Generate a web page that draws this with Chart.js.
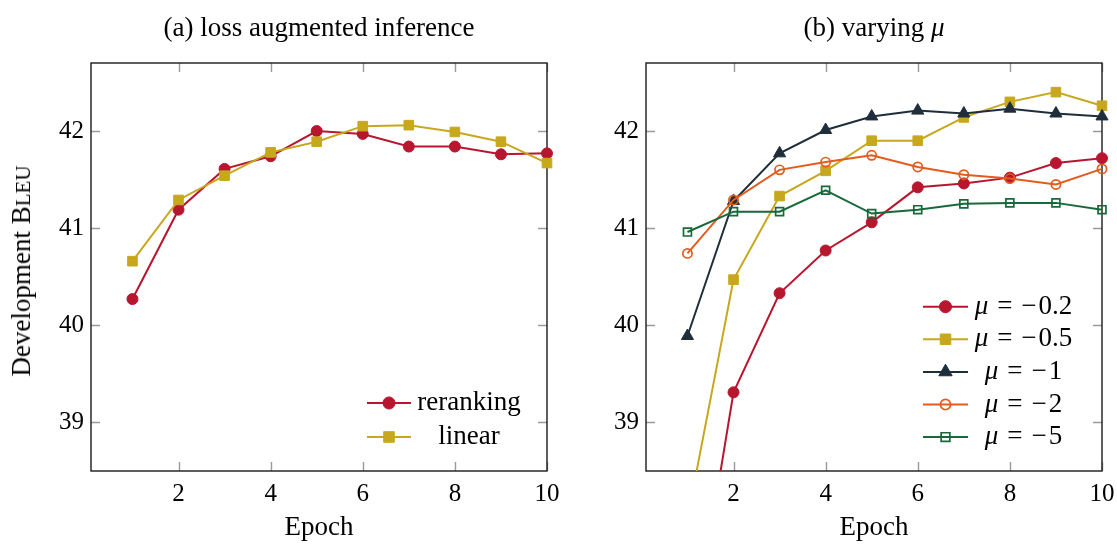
<!DOCTYPE html>
<html><head><meta charset="utf-8">
<script src="https://cdn.jsdelivr.net/npm/chart.js@4"></script>
<style>
body{margin:0;background:#fff;width:1117px;height:544px;overflow:hidden;position:relative;font-family:'Liberation Serif',serif;color:#000}
.wrap{position:absolute;top:0;height:544px}
.title{position:absolute;top:13px;font-size:27px;line-height:28px;white-space:nowrap;transform:translateX(-50%)}
.ylab{position:absolute;left:22px;top:271px;font-size:27px;line-height:28px;white-space:nowrap;transform:translate(-50%,-50%) rotate(-90deg)}
</style></head><body>
<div class="wrap" style="left:0;width:560px"><canvas id="c1" width="560" height="544"></canvas></div>
<div class="wrap" style="left:560px;width:557px"><canvas id="c2" width="557" height="544"></canvas></div>
<div class="title" style="left:319px">(a) loss augmented inference</div>
<div class="title" style="left:874px">(b) varying <i>μ</i></div>
<div class="ylab">Development B<span style="font-size:0.78em">LEU</span></div>
<script>
// ---- data ----
const epochs = [1,2,3,4,5,6,7,8,9,10];
const xTicks = [2,4,6,8,10];
const yTicks = [39,40,41,42];

const reranking = [40.27,41.19,41.61,41.74,42.00,41.97,41.84,41.84,41.76,41.77];
const linear    = [40.66,41.29,41.54,41.78,41.89,42.05,42.06,41.99,41.89,41.67];

const mu02 = [36.42,39.31,40.33,40.77,41.06,41.42,41.46,41.52,41.67,41.72];
const mu05 = [38.01,40.47,41.33,41.59,41.90,41.90,42.14,42.30,42.40,42.26];
const mu1  = [39.89,41.28,41.77,42.01,42.15,42.21,42.18,42.23,42.18,42.15];
const mu2  = [40.74,41.29,41.60,41.68,41.75,41.63,41.55,41.51,41.45,41.61];
const mu5  = [40.96,41.17,41.17,41.39,41.15,41.19,41.25,41.26,41.26,41.19];

const labelsA = ['reranking','linear'];
const labelsB = ['−0.2','−0.5','−1','−2','−5'];

// ---- styles ----
const RED='#b8162e', YEL='#c7a81d', DARK='#1f2e3b', ORA='#e45b1d', GRN='#17693a';
const FONT="'Liberation Serif', 'Times New Roman', serif";
const TXT=27, TICK=25;

function series(vals, color, style, radius, open, idx){
  return {
    data: epochs.map((e,i)=>({x:e,y:vals[i]})),
    borderColor: color, borderWidth: 2,
    pointStyle: style, pointRadius: radius, pointHoverRadius: radius,
    pointBackgroundColor: open ? 'rgba(255,255,255,0)' : color,
    pointBorderColor: color, pointBorderWidth: open ? 1.7 : 1,
    fill:false, tension:0, order: -idx,
    clip: {left:12, right:12, top:12, bottom:0}
  };
}

function drawMarker(ctx, ds, x, y, scale){
  const r = ds.pointRadius*scale;
  ctx.save();
  ctx.lineWidth = ds.pointBorderWidth;
  ctx.strokeStyle = ds.pointBorderColor;
  ctx.fillStyle = ds.pointBackgroundColor;
  ctx.beginPath();
  if (ds.pointStyle==='circle'){ ctx.arc(x,y,r,0,Math.PI*2); }
  else if (ds.pointStyle==='rect'){ const s=r*Math.SQRT1_2; ctx.rect(x-s,y-s,2*s,2*s); }
  else if (ds.pointStyle==='triangle'){
    ctx.moveTo(x, y - r); ctx.lineTo(x + r*0.866, y + r*0.5); ctx.lineTo(x - r*0.866, y + r*0.5); ctx.closePath();
  }
  ctx.fill(); ctx.stroke();
  ctx.restore();
}

const framePlugin = {
  id:'frame',
  beforeDatasetsDraw(chart){
    const ctx=chart.ctx, ca=chart.chartArea, xs=chart.scales.x, ys=chart.scales.y;
    ctx.save();
    ctx.strokeStyle='#9a9a9a'; ctx.lineWidth=1.4;
    const L=9;
    xTicks.forEach(v=>{
      const px=Math.round(xs.getPixelForValue(v))+0.5;
      ctx.beginPath(); ctx.moveTo(px,ca.bottom); ctx.lineTo(px,ca.bottom-L);
      ctx.moveTo(px,ca.top); ctx.lineTo(px,ca.top+L); ctx.stroke();
    });
    yTicks.forEach(v=>{
      const py=Math.round(ys.getPixelForValue(v))+0.5;
      ctx.beginPath(); ctx.moveTo(ca.left,py); ctx.lineTo(ca.left+L,py);
      ctx.moveTo(ca.right,py); ctx.lineTo(ca.right-L,py); ctx.stroke();
    });
    ctx.strokeStyle='#1a1a1a'; ctx.lineWidth=1.4;
    ctx.strokeRect(ca.left,ca.top,ca.right-ca.left,ca.bottom-ca.top);
    ctx.restore();
  }
};

const legendPlugin = {
  id:'customLegend',
  afterDatasetsDraw(chart, args, opts){
    const ctx=chart.ctx, ca=chart.chartArea;
    opts.items.forEach((it,i)=>{
      const ds=chart.data.datasets[i];
      const y=ca.top+opts.y0+i*opts.dy;
      const x1=ca.right-opts.lineStart, x2=x1+opts.len;
      ctx.save();
      ctx.strokeStyle=ds.borderColor; ctx.lineWidth=ds.borderWidth;
      ctx.beginPath(); ctx.moveTo(x1,y); ctx.lineTo(x2,y); ctx.stroke();
      ctx.restore();
      drawMarker(ctx, ds, (x1+x2)/2, y, 1.1);
      const cx=ca.right-opts.textCenter;
      ctx.save();
      ctx.fillStyle='#000'; ctx.textBaseline='middle'; ctx.textAlign='left';
      if (opts.math){
        const gap=TXT*0.33;
        ctx.font='italic '+TXT+'px '+FONT; const wa=ctx.measureText('μ').width;
        ctx.font=TXT+'px '+FONT;
        const we=ctx.measureText('=').width;
        const minus=it.charAt(0), num=it.slice(1);
        const wm=ctx.measureText(minus).width, wn=ctx.measureText(num).width;
        const total=wa+gap+we+gap+wm+2+wn;
        let sx=cx-total/2;
        ctx.font='italic '+TXT+'px '+FONT; ctx.fillText('μ',sx,y); sx+=wa+gap;
        ctx.font=TXT+'px '+FONT; ctx.fillText('=',sx,y); sx+=we+gap;
        ctx.fillText(minus,sx,y); sx+=wm+2;
        ctx.fillText(num,sx,y);
      } else {
        ctx.font=TXT+'px '+FONT; ctx.textAlign='center'; ctx.fillText(it,cx,y);
      }
      ctx.restore();
    });
  }
};

function makeChart(id, datasets, legendOpts, yWidth, padRight){
  return new Chart(document.getElementById(id), {
    type:'line',
    data:{datasets},
    plugins:[framePlugin, legendPlugin],
    options:{
      responsive:false, animation:false, devicePixelRatio:1,
      layout:{padding:{top:63,right:padRight,left:0,bottom:0}},
      plugins:{legend:{display:false}, tooltip:{enabled:false}, customLegend:legendOpts},
      scales:{
        x:{type:'linear', min:0.1, max:10,
           afterBuildTicks:s=>{s.ticks=xTicks.map(v=>({value:v}));},
           afterFit:s=>{s.height=73; s.paddingLeft=0; s.paddingRight=0;},
           grid:{display:false, drawTicks:false}, border:{display:false},
           ticks:{font:{family:FONT,size:TICK}, color:'#000', padding:8, maxRotation:0},
           title:{display:true, text:'Epoch', font:{family:FONT,size:TXT}, color:'#000', padding:{top:0,bottom:0}}},
        y:{type:'linear', min:38.5, max:42.7,
           afterBuildTicks:s=>{s.ticks=yTicks.map(v=>({value:v}));},
           afterFit:s=>{s.width=yWidth; s.paddingTop=0; s.paddingBottom=0;},
           grid:{display:false, drawTicks:false}, border:{display:false},
           ticks:{font:{family:FONT,size:TICK}, color:'#000', padding:7}}
      }
    }
  });
}

makeChart('c1', [
  series(reranking, RED, 'circle', 5.5, false, 0),
  series(linear, YEL, 'rect', 6.8, false, 1)
], {items:labelsA, y0:340, dy:34, lineStart:180, len:44, textCenter:78, math:false}, 91, 13);

makeChart('c2', [
  series(mu02, RED, 'circle', 5.5, false, 0),
  series(mu05, YEL, 'rect', 6.8, false, 1),
  series(mu1, DARK, 'triangle', 7, false, 2),
  series(mu2, ORA, 'circle', 4.6, true, 3),
  series(mu5, GRN, 'rect', 5.6, true, 4)
], {items:labelsB, y0:243.7, dy:32.6, lineStart:179, len:45, textCenter:78.5, math:true}, 86, 15);
</script>
</body></html>
